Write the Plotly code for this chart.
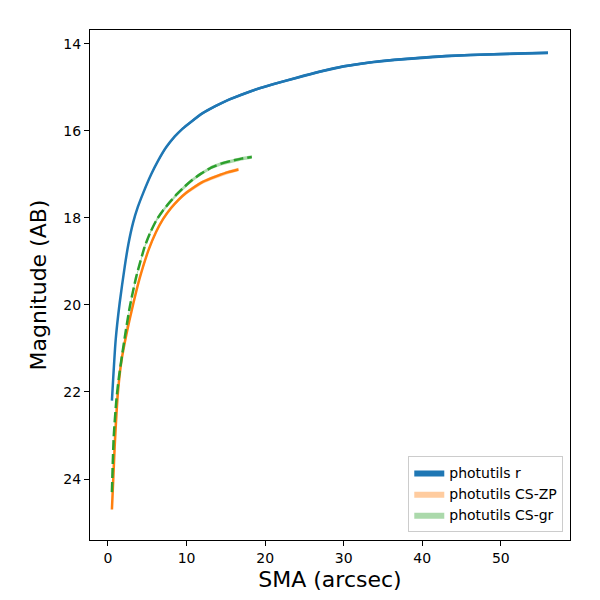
import plotly.graph_objects as go

# curve of growth
sma_r = [0.5, 0.98, 1.49, 2.13, 2.6, 3.18, 3.8, 4.5, 5.5, 6.4, 7.4, 8.5, 9.5, 10.6, 12.0,
         13.6, 15.2, 17.0, 19.0, 21.0, 24.0, 27.0, 30.0, 33.3, 36.5, 39.7, 43.0, 46.1,
         50.0, 53.0, 56.0]
mag_r = [22.20, 20.80, 19.95, 19.12, 18.60, 18.12, 17.75, 17.42, 17.00, 16.68, 16.38,
         16.13, 15.95, 15.79, 15.60, 15.44, 15.30, 15.17, 15.04, 14.93, 14.78, 14.64,
         14.52, 14.43, 14.37, 14.32, 14.285, 14.26, 14.235, 14.22, 14.21]
err_r = 0.03

sma_zp = [0.5, 0.85, 1.27, 1.7, 2.34, 3.18, 4.04, 5.2, 6.1, 7.0, 8.0, 9.0, 10.0, 11.0,
          12.0, 13.0, 14.0, 15.3, 16.6]
mag_zp = [24.70, 23.26, 22.00, 21.30, 20.68, 20.00, 19.38, 18.72, 18.33, 18.03, 17.78,
          17.58, 17.42, 17.29, 17.18, 17.10, 17.03, 16.95, 16.89]
err_zp = 0.04

sma_gr = [0.5, 0.73, 1.07, 1.4, 2.13, 2.76, 3.6, 4.68, 5.4, 6.17, 7.0, 7.86, 8.8, 9.77,
          10.6, 11.8, 13.2, 14.5, 15.7, 17.0, 18.3]
mag_gr = [24.30, 23.03, 22.18, 21.65, 20.75, 20.06, 19.35, 18.66, 18.33, 18.05, 17.83,
          17.64, 17.45, 17.28, 17.15, 16.99, 16.84, 16.75, 16.69, 16.64, 16.60]
err_gr = 0.04

series = [
    ("photutils r", sma_r, mag_r, err_r, "#1f77b4", "rgba(31,119,180,1)", "solid"),
    ("photutils CS-ZP", sma_zp, mag_zp, err_zp, "#ff7f0e", "rgba(255,127,14,0.4)", "solid"),
    ("photutils CS-gr", sma_gr, mag_gr, err_gr, "#2ca02c", "rgba(44,160,44,0.4)", "10px,4px"),
]

fig = go.Figure()

# bands first (these carry the legend, like fill_between patches)
for name, x, m, e, col, fillcol, dash in series:
    upper = [v - e for v in m]
    lower = [v + e for v in m]
    fig.add_trace(go.Scatter(
        x=x + x[::-1], y=upper + lower[::-1],
        fill="toself", fillcolor=fillcol, line=dict(width=0),
        mode="lines", name=name, hoverinfo="skip"))

for name, x, m, e, col, fillcol, dash in series:
    fig.add_trace(go.Scatter(
        x=x, y=m, mode="lines",
        line=dict(color=col, width=2.5, dash=dash, shape="spline", smoothing=0.6),
        showlegend=False, name=name))

axis_common = dict(
    showgrid=False, zeroline=False, showline=True, linecolor="black", linewidth=1,
    mirror=True, ticks="outside", ticklen=5, tickwidth=1, tickcolor="black",
    tickfont=dict(size=14, color="black"), automargin=False,
)

fig.update_xaxes(range=[-2.29, 58.8], tickvals=[0, 10, 20, 30, 40, 50],
                 title=dict(text="SMA (arcsec)", font=dict(size=22, color="black"), standoff=6),
                 **axis_common)
fig.update_yaxes(range=[25.40, 13.685], tickvals=[14, 16, 18, 20, 22, 24],
                 title=dict(text="Magnitude (AB)", font=dict(size=22, color="black"), standoff=10),
                 **axis_common)

# the page body has an 8px margin, so the figure is sized/offset to compensate
fig.update_layout(
    width=584, height=584,
    margin=dict(l=82, r=22, t=22, b=52),
    paper_bgcolor="white", plot_bgcolor="white",
    font=dict(family="DejaVu Sans", color="black"),
    legend=dict(x=0.986, y=0.016, xanchor="right", yanchor="bottom",
                bgcolor="rgba(255,255,255,0.8)", bordercolor="#cccccc", borderwidth=1,
                font=dict(size=14, color="black")),
)

fig.write_html("out.html")
